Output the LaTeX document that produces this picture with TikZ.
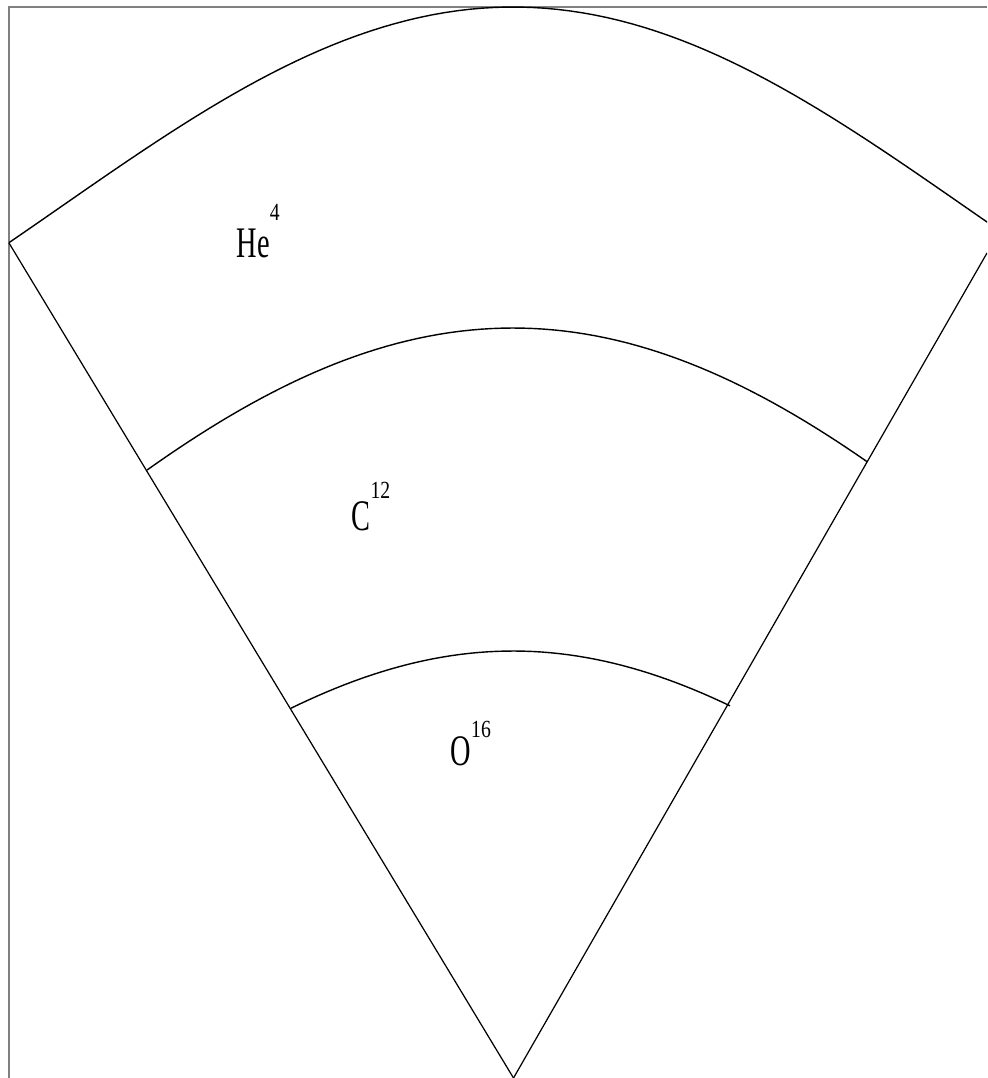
\documentclass[tikz,border=0pt]{standalone}
\usepackage{fontspec}
\setmainfont{Liberation Serif}
\usepackage{graphicx}
\usepackage{tikz}

% narrow label with a raised mass number
\newcommand{\nuclide}[3]{%
  \scalebox{0.65}[1]{#1}%
  \raisebox{#3}{\fontsize{7}{8}\selectfont\scalebox{0.8}[1]{#2}}}

\begin{document}
\begin{tikzpicture}[
  x=0.01cm, y=-0.01cm,
  font=\fontsize{12.4}{14}\selectfont,
  frame/.style   = {draw=black!50, line width=0.6pt},
  shell/.style   = {draw=black, line width=0.4pt},
  edge/.style    = {draw=black, line width=0.35pt},
  element/.style = {anchor=base west, inner sep=0pt},
]
\useasboundingbox (0,0) rectangle (987,1078);
\clip (0,0) rectangle (987,1078);

% =============================================================
% Frame (top and left only)
% =============================================================
\draw[frame] (9,1078) -- (9,7) -- (987,7);

% =============================================================
% Cone edges
% =============================================================
\coordinate (apex)   at (513.5,1078);
\coordinate (leftE)  at (9,243);
\coordinate (rightE) at (987,253);

\draw[edge] (apex) -- (leftE);
\draw[edge] (apex) -- (rightE);

% =============================================================
% Shell boundaries (peak at x = 513)
% =============================================================
% outer: He
\draw[shell] plot[domain=-504:480, samples=80]
  ({513+\x}, {7+200*(1-cos(\x/288 r))});
% middle: He / C
\draw[shell] plot[domain=-366:354, samples=70]
  ({513+\x}, {328+309*(1-cos(\x/366 r))});
% inner: C / O
\draw[shell] plot[domain=-222:217, samples=50]
  ({513+\x}, {651+188*(1-cos(\x/277 r))});

% =============================================================
% Labels
% =============================================================
\node[element] (he) at (236,257) {\nuclide{He}{4}{10.5pt}};
\node[element] (c)  at (351,530) {\nuclide{C}{12}{9.1pt}};
\node[element] (o)  at (450,765) {\nuclide{O}{16}{7.7pt}};

\end{tikzpicture}
\end{document}
